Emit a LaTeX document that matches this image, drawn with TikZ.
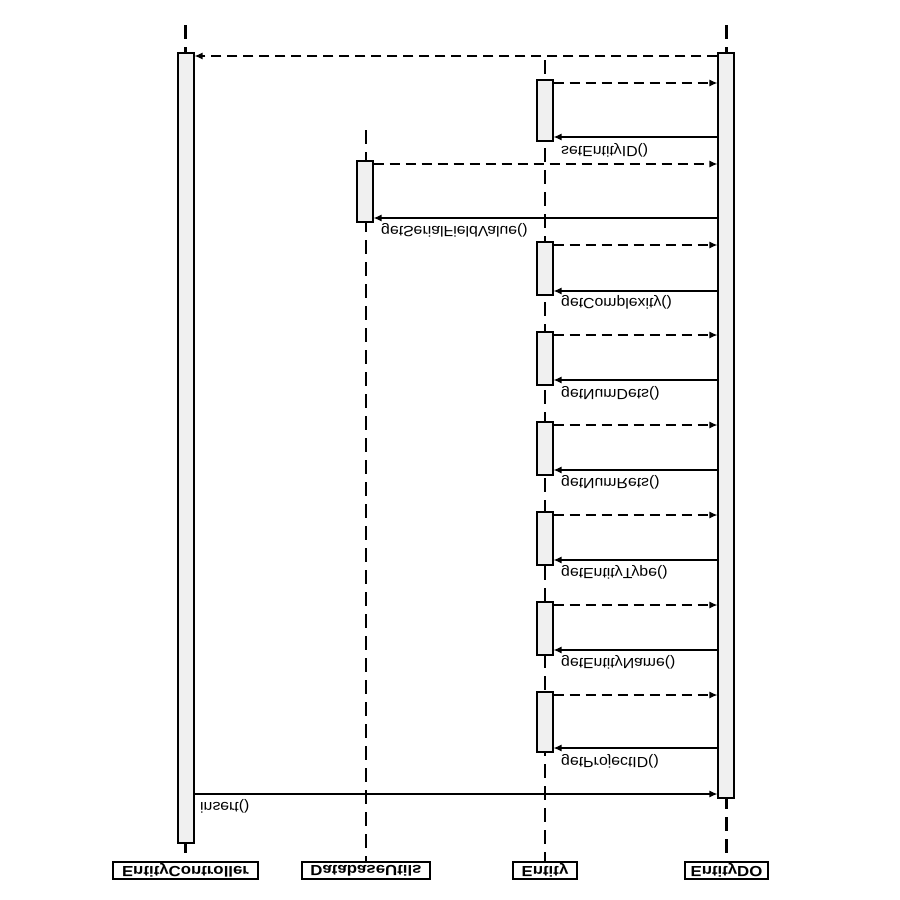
\documentclass[tikz,border=0pt]{standalone}
\usepackage{fontspec}
\setmainfont{Liberation Sans}
\usepackage{graphicx}
\usetikzlibrary{arrows.meta,calc}
\newcommand\fliptxt[1]{\scalebox{1.13}[-1.05]{#1}}
\newcommand\fliphead[1]{\scalebox{1.2}[-1.05]{#1}}
\begin{document}
\begin{tikzpicture}[x=1pt,y=-1pt,
  life/.style={line width=2.2pt, dash pattern=on 14pt off 8pt},
  bar/.style={draw, fill=gray!12, line width=1.1pt, minimum width=16pt, inner sep=0pt},
  head/.style={draw, fill=white, line width=1.6pt, minimum height=17pt, inner sep=0pt, font=\bfseries\fontsize{14}{16}\selectfont},
  msg/.style={font=\fontsize{14}{16}\selectfont, inner sep=0pt, anchor=west},
  call/.style={line width=1.3pt, -{Latex[length=8pt,width=7pt]}},
  ret/.style={line width=1.3pt, dash pattern=on 10pt off 6pt, -{Latex[length=8pt,width=7pt]}}]
\useasboundingbox (0,0) rectangle (900,900);
\fill[white] (0,0) rectangle (900,900);
% header boxes
\node[head, minimum width=145pt] (hEC) at (185.5,870.5) {\fliphead{EntityController}};
\node[head, minimum width=128pt] (hDU) at (366,870.5) {\fliphead{DatabaseUtils}};
\node[head, minimum width=64pt] (hE) at (545,870.5) {\fliphead{Entity}};
\node[head, minimum width=83pt] (hDO) at (726.5,870.5) {\fliphead{EntityDO}};
% lifeline tops
\coordinate (tEC) at (185.5,25);
\coordinate (tDU) at (366,130);
\coordinate (tE) at (545,60);
\coordinate (tDO) at (726.5,25);
\draw[life] (tEC) -- (hEC.north);
\draw[life] (tDU) -- (hDU.north);
\draw[life] (tE) -- (hE.north);
\draw[life] (tDO) -- (hDO.north);
% activation bars
\node[bar, minimum height=790pt] (bEC) at (186,448) {};
\node[bar, minimum height=745pt] (bDO) at (726,425.5) {};
\node[bar, minimum height=61pt] (bDU) at (365,191.5) {};
\node[bar, minimum height=61pt] (b1) at (545,110.5) {};
\node[bar, minimum height=53pt] (b2) at (545,268.5) {};
\node[bar, minimum height=53pt] (b3) at (545,358.5) {};
\node[bar, minimum height=53pt] (b4) at (545,448.5) {};
\node[bar, minimum height=53pt] (b5) at (545,538.5) {};
\node[bar, minimum height=53pt] (b6) at (545,628.5) {};
\node[bar, minimum height=60pt] (b7) at (545,722) {};
% messages
\draw[ret] (bDO.west |- 0,56) -- (bEC.east |- 0,56);
\draw[ret] (b1.east |- 0,83) -- (bDO.west |- 0,83);
\draw[call] (bDO.west |- 0,137) -- (b1.east |- 0,137);
\node[msg] (m1) at (561,150) {\fliptxt{setEntityID()}};
\draw[ret] (bDU.east |- 0,164) -- (bDO.west |- 0,164);
\draw[call] (bDO.west |- 0,218) -- (bDU.east |- 0,218);
\node[msg] (m2) at (381,230) {\fliptxt{getSerialFieldValue()}};
\draw[ret] (b2.east |- 0,245) -- (bDO.west |- 0,245);
\draw[call] (bDO.west |- 0,291) -- (b2.east |- 0,291);
\node[msg] (m3) at (561,302) {\fliptxt{getComplexity()}};
\draw[ret] (b3.east |- 0,335) -- (bDO.west |- 0,335);
\draw[call] (bDO.west |- 0,380) -- (b3.east |- 0,380);
\node[msg] (m4) at (561,393) {\fliptxt{getNumDets()}};
\draw[ret] (b4.east |- 0,425) -- (bDO.west |- 0,425);
\draw[call] (bDO.west |- 0,470) -- (b4.east |- 0,470);
\node[msg] (m5) at (561,482) {\fliptxt{getNumRets()}};
\draw[ret] (b5.east |- 0,515) -- (bDO.west |- 0,515);
\draw[call] (bDO.west |- 0,560) -- (b5.east |- 0,560);
\node[msg] (m6) at (561,572) {\fliptxt{getEntityType()}};
\draw[ret] (b6.east |- 0,605) -- (bDO.west |- 0,605);
\draw[call] (bDO.west |- 0,650) -- (b6.east |- 0,650);
\node[msg] (m7) at (561,662) {\fliptxt{getEntityName()}};
\draw[ret] (b7.east |- 0,695) -- (bDO.west |- 0,695);
\draw[call] (bDO.west |- 0,748) -- (b7.east |- 0,748);
\node[msg] (m8) at (561,761) {\fliptxt{getProjectID()}};
\draw[call] (bEC.east |- 0,794) -- (bDO.west |- 0,794);
\node[msg] (m9) at (200,806) {\fliptxt{insert()}};
\end{tikzpicture}
\end{document}
